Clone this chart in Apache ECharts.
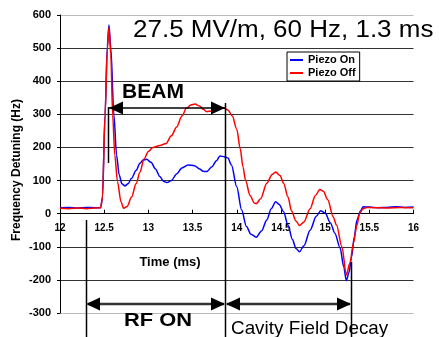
<!DOCTYPE html>
<html>
<head>
<meta charset="utf-8">
<script src="https://cdn.jsdelivr.net/npm/echarts@6/dist/echarts.min.js"></script>
<style>
html,body{margin:0;padding:0;background:#fff;}
#c{width:439px;height:337px;}
</style>
</head>
<body>
<div id="c"></div>
<script>
// ---- data ----
const seriesNames = ['Piezo On', 'Piezo Off'];
const xTicks = [12, 12.5, 13, 13.5, 14, 14.5, 15, 15.5, 16];
const yTicks = [-300, -200, -100, 0, 100, 200, 300, 400, 500, 600];

const tOn = [12.0, 12.1, 12.2, 12.3, 12.4, 12.46, 12.48, 12.51, 12.535, 12.554, 12.575, 12.61, 12.64, 12.67, 12.7, 12.735, 12.77, 12.81, 12.86, 12.905, 12.94, 12.98, 13.03, 13.08, 13.13, 13.17, 13.21, 13.26, 13.32, 13.38, 13.45, 13.52, 13.58, 13.62, 13.66, 13.72, 13.77, 13.81, 13.86, 13.9, 13.94, 14.0, 14.055, 14.11, 14.16, 14.22, 14.28, 14.34, 14.39, 14.44, 14.48, 14.53, 14.58, 14.63, 14.67, 14.71, 14.76, 14.83, 14.9, 14.95, 15.0, 15.06, 15.11, 15.17, 15.21, 15.24, 15.27, 15.3, 15.33, 15.36, 15.4, 15.43, 15.5, 15.6, 15.7, 15.8, 15.9, 16.0];
const piezoOn = [18, 19, 17, 19, 18, 18, 47, 300, 505, 570, 500, 298, 177, 117, 90, 84, 90, 107, 130, 152, 162, 164, 155, 135, 112, 98, 94, 100, 120, 138, 147, 145, 135, 128, 127, 142, 160, 174, 172, 168, 147, 81, 11, -39, -62, -71, -52, -19, 15, 36, 28, 6, -35, -78, -105, -115, -97, -50, -8, 9, 2, -28, -59, -104, -160, -202, -178, -130, -70, -19, 8, 21, 20, 18, 19, 21, 19, 20];

const tOff = [12.0, 12.1, 12.2, 12.3, 12.4, 12.46, 12.48, 12.51, 12.535, 12.554, 12.575, 12.596, 12.62, 12.65, 12.69, 12.72, 12.76, 12.81, 12.86, 12.905, 12.95, 13.0, 13.05, 13.13, 13.2, 13.26, 13.32, 13.38, 13.43, 13.48, 13.53, 13.58, 13.62, 13.66, 13.72, 13.78, 13.81, 13.86, 13.9, 13.95, 14.0, 14.04, 14.07, 14.1, 14.15, 14.2, 14.22, 14.27, 14.34, 14.4, 14.44, 14.49, 14.53, 14.58, 14.62, 14.67, 14.71, 14.76, 14.83, 14.89, 14.94, 14.98, 15.03, 15.09, 15.13, 15.19, 15.24, 15.28, 15.32, 15.36, 15.39, 15.43, 15.47, 15.55, 15.7, 15.85, 16.0];
const piezoOff = [16, 15, 17, 15, 17, 18, 47, 298, 495, 562, 480, 298, 177, 97, 36, 16, 22, 50, 90, 125, 165, 188, 200, 206, 212, 235, 262, 295, 318, 328, 331, 325, 315, 308, 310, 318, 320, 318, 313, 295, 255, 195, 142, 100, 55, 32, 30, 45, 92, 118, 126, 115, 92, 50, 8, -22, -36, -25, 15, 55, 73, 68, 42, -9, -35, -100, -185, -150, -89, -35, 1, 15, 19, 18, 17, 19, 18];

const colors = ['#0000ff', '#ff0000'];
const FONT = '"Liberation Sans", Arial, Helvetica, sans-serif';

const chart = echarts.init(document.getElementById('c'), null, {renderer: 'canvas'});

const gridColors = yTicks.map((v, i) => (i === 0 || i === yTicks.length - 1) ? '#bbbbbb' : '#333333');

const gridTop = 15, gridBottom = 24, chartH = 337;
const plotH = chartH - gridTop - gridBottom;
// distance of the zero line above the bottom edge of the plot
const zeroOffset = plotH * (0 - yTicks[0]) / (yTicks[yTicks.length - 1] - yTicks[0]);

function arrowHead(tipX, y, dir, len, half) {
  const baseX = tipX - dir * len;
  return {type: 'polygon', z: 100, silent: true,
    shape: {points: [[tipX, y], [baseX, y - half], [baseX, y + half]]},
    style: {fill: '#000'}};
}
function seg(x1, y1, x2, y2, w, c) {
  return {type: 'line', z: 100, silent: true,
    shape: {x1: x1, y1: y1, x2: x2, y2: y2},
    style: {stroke: c || '#000', lineWidth: w || 1.5}};
}
function txt(x, y, text, font, align, sx, rot) {
  return {type: 'text', z: 100, silent: true, x: x, y: y,
    scaleX: sx || 1, rotation: rot || 0,
    style: {text: text, font: font, fill: '#000', textAlign: align || 'left', textVerticalAlign: 'middle'}};
}

const option = {
  animation: false,
  backgroundColor: '#ffffff',
  grid: {left: 60, right: 25.5, top: gridTop, bottom: gridBottom, containLabel: false},
  legend: {
    data: seriesNames,
    orient: 'vertical',
    left: 287, top: 52,
    backgroundColor: '#fff',
    borderColor: '#000', borderWidth: 1,
    padding: [2, 4, 2, 3],
    itemWidth: 13, itemHeight: 2, itemGap: 1,
    icon: 'rect',
    textStyle: {fontSize: 11, fontWeight: 'bold', fontFamily: FONT, color: '#000', lineHeight: 12}
  },
  xAxis: {
    type: 'value', min: xTicks[0], max: xTicks[xTicks.length - 1], interval: 0.5,
    position: 'bottom', offset: -zeroOffset,
    axisLine: {show: true, onZero: false, lineStyle: {color: '#000', width: 1}},
    axisTick: {show: true, inside: true, length: 4, lineStyle: {color: '#000'}},
    axisLabel: {fontSize: 10, fontWeight: 'bold', fontFamily: FONT, color: '#000', margin: 10},
    splitLine: {show: false}
  },
  yAxis: {
    type: 'value', min: yTicks[0], max: yTicks[yTicks.length - 1], interval: 100,
    axisLine: {show: true, onZero: false, lineStyle: {color: '#000', width: 1}},
    axisTick: {show: true, inside: false, length: 3, lineStyle: {color: '#000'}},
    axisLabel: {fontSize: 11, fontWeight: 'bold', fontFamily: FONT, color: '#000', margin: 9},
    splitLine: {show: true, lineStyle: {color: gridColors, width: 1}}
  },
  series: [
    {name: seriesNames[0], type: 'line', showSymbol: false, symbol: 'none',
     smooth: 0.3, smoothMonotone: 'x',
     lineStyle: {color: colors[0], width: 1.5}, itemStyle: {color: colors[0]},
     data: tOn.map((t, i) => [t, piezoOn[i]])},
    {name: seriesNames[1], type: 'line', showSymbol: false, symbol: 'none',
     smooth: 0.3, smoothMonotone: 'x',
     lineStyle: {color: colors[1], width: 1.5}, itemStyle: {color: colors[1]},
     data: tOff.map((t, i) => [t, piezoOff[i]])}
  ],
  graphic: [
    txt(133, 31, '27.5 MV/m, 60 Hz, 1.3 ms', '23px ' + FONT, 'left', 1.13),
    txt(17, 170, 'Frequency Detuning (Hz)', 'bold 12px ' + FONT, 'center', 1, Math.PI / 2),
    txt(170, 262, 'Time (ms)', 'bold 13px ' + FONT, 'center'),
    txt(153, 92, 'BEAM', 'bold 20px ' + FONT, 'center', 1.05),
    seg(109, 108, 225, 108, 1.5),
    arrowHead(109, 108, -1, 14, 6.5),
    arrowHead(225, 108, 1, 14, 6.5),
    seg(108.5, 107, 108.5, 163, 1.5),
    seg(225.5, 103, 225.5, 337, 1.5),
    seg(86.5, 220, 86.5, 337, 1.5),
    seg(88, 304, 224, 304, 2.5, '#333'),
    arrowHead(86, 304, -1, 14, 6.5),
    arrowHead(225, 304, 1, 14, 6.5),
    txt(158, 321, 'RF ON', 'bold 19px ' + FONT, 'center', 1.15),
    seg(351.5, 262, 351.5, 337, 1.5),
    seg(227, 304, 350, 304, 2.5, '#333'),
    arrowHead(226, 304, -1, 14, 6.5),
    arrowHead(351, 304, 1, 14, 6.5),
    txt(231, 329, 'Cavity Field Decay', '18.5px ' + FONT, 'left', 1.02)
  ]
};
chart.setOption(option);
</script>
</body>
</html>
